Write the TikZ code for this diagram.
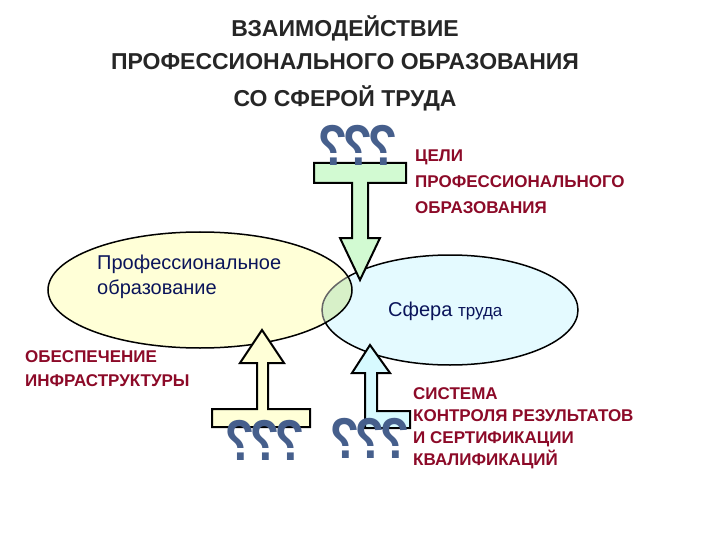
\documentclass[tikz,border=0pt]{standalone}
\usepackage{fontspec}
\setmainfont{Liberation Sans}
\definecolor{cRed}{RGB}{140,10,40}
\definecolor{cBlu}{RGB}{10,20,90}
\definecolor{cQm}{RGB}{70,95,140}
\definecolor{cYel}{RGB}{255,255,215}
\definecolor{cCya}{RGB}{228,250,255}
\definecolor{cOv}{RGB}{215,240,200}
\definecolor{cGrn}{RGB}{210,250,210}
\definecolor{cCyA}{RGB}{215,250,255}
\begin{document}
\begin{tikzpicture}[x=1pt,y=-1pt,
  ttl/.style={font=\bfseries\fontsize{23}{27}\selectfont, text=black!85},
  red/.style={font=\bfseries\fontsize{17}{22}\selectfont, text=cRed, align=left, anchor=north west, inner sep=0},
  blu/.style={font=\fontsize{20}{25}\selectfont, text=cBlu, align=left, anchor=north west, inner sep=0},
  qm/.style={font=\bfseries\fontsize{48}{48}\selectfont, text=cQm, xscale=-1, yscale=1.2, inner sep=0},
  arr/.style={draw=black, line width=2pt, line join=miter}]
\useasboundingbox (0,0) rectangle (720,540);
\node[ttl] (t1) at (345,28) {ВЗАИМОДЕЙСТВИЕ};
\node[ttl] (t2) at (345,62) {ПРОФЕССИОНАЛЬНОГО ОБРАЗОВАНИЯ};
\node[ttl] (t3) at (345,98) {СО СФЕРОЙ ТРУДА};
% ellipses
\fill[cYel] (200,290) ellipse [x radius=152, y radius=58];
\fill[cCya] (450,310) ellipse [x radius=128, y radius=55];
\begin{scope}
\clip (200,290) ellipse [x radius=152, y radius=58];
\fill[cOv] (450,310) ellipse [x radius=128, y radius=55];
\draw[black!60, line width=1.5pt] (450,310) ellipse [x radius=128, y radius=55];
\end{scope}
\draw[line width=1.5pt] (200,290) ellipse [x radius=152, y radius=58];
\begin{scope}[even odd rule]
\clip (0,0) rectangle (720,540) (200,290) ellipse [x radius=152, y radius=58];
\draw[line width=1.5pt] (450,310) ellipse [x radius=128, y radius=55];
\end{scope}
% top arrow
\draw[arr, fill=cGrn] (314,163) -- (406,163) -- (406,183) -- (368,183) -- (368,238) -- (380,238) -- (360,280) -- (340,238) -- (352,238) -- (352,183) -- (314,183) -- cycle;
% left arrow
\draw[arr, fill=cYel] (262,330) -- (284,363) -- (268,363) -- (268,409) -- (310,409) -- (310,427) -- (212,427) -- (212,409) -- (257,409) -- (257,363) -- (240,363) -- cycle;
% right arrow
\draw[arr, fill=cCyA] (370,345) -- (390,373) -- (377,373) -- (377,411) -- (410,411) -- (410,428) -- (365,428) -- (365,373) -- (352,373) -- cycle;
% question marks
\foreach \x/\n in {333/a,358/b,383/c} \node[qm] (q\n) at (\x,145) {?};
\foreach \x/\n in {240/a,265/b,290/c} \node[qm] (p\n) at (\x,440) {?};
\foreach \x/\n in {345/a,370/b,395/c} \node[qm] (r\n) at (\x,438) {?};
% texts
\node[red] (goal) at (415,150) {ЦЕЛИ\\[4pt]ПРОФЕССИОНАЛЬНОГО\\[4pt]ОБРАЗОВАНИЯ};
\node[blu] (po) at (97,255) {Профессиональное\\образование};
\node[blu, anchor=west] (st) at (388,311) {Сфера {\fontsize{17}{19}\selectfont труда}};
\node[red] (inf) at (25,350) {ОБЕСПЕЧЕНИЕ\\[2pt]ИНФРАСТРУКТУРЫ};
\node[red] (sys) at (413,387) {СИСТЕМА\\КОНТРОЛЯ РЕЗУЛЬТАТОВ\\И СЕРТИФИКАЦИИ\\КВАЛИФИКАЦИЙ};
\end{tikzpicture}
\end{document}
